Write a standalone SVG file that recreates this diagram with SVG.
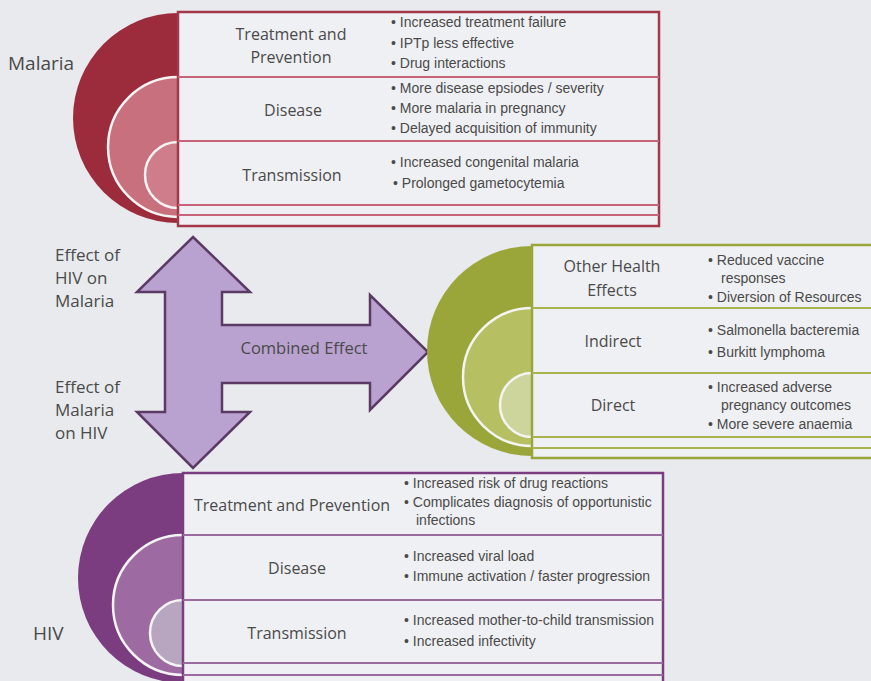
<svg xmlns="http://www.w3.org/2000/svg" width="871" height="681" viewBox="0 0 871 681">
<style>
.lbl{font-family:"Open Sans","Noto Sans",sans-serif;font-size:16px;fill:#4a4a4a;text-anchor:middle}
.side{font-family:"Open Sans","Noto Sans",sans-serif;font-size:17px;fill:#4a4a4a}
.bul{font-family:"Liberation Sans","Arial",sans-serif;font-size:14px;fill:#4a4a4a}
.box{fill:#eff0f3}
.w{stroke:#f4f4f4;stroke-width:2.5}
</style>
<rect width="871" height="681" fill="#e8eaed"/>

<!-- Malaria -->
<g id="malaria">
  <path d="M178,13 A105,105 0 0 0 178,223 Z" fill="#9c2b3c"/>
  <path d="M178,77 A70,70 0 0 0 178,217" fill="#c9707e" class="w"/>
  <path d="M178,142 A33,33 0 0 0 178,208" fill="#cf7d8a" class="w"/>
  <rect x="178" y="12" width="481" height="214" class="box" stroke="#a53848" stroke-width="2.5"/>
  <g stroke="#c8647a" stroke-width="1.8" fill="none">
    <line x1="178" y1="77" x2="659" y2="77"/>
    <line x1="178" y1="141" x2="659" y2="141"/>
    <line x1="178" y1="205" x2="659" y2="205"/>
    <line x1="178" y1="215" x2="659" y2="215"/>
  </g>
  <text class="side" x="8" y="70" style="font-size:19px">Malaria</text>
  <text class="lbl" x="291" y="40">Treatment and</text>
  <text class="lbl" x="291" y="63">Prevention</text>
  <text class="lbl" x="293" y="116">Disease</text>
  <text class="lbl" x="292" y="181">Transmission</text>
  <text class="bul" x="391" y="27">• Increased treatment failure</text>
  <text class="bul" x="391" y="48">• IPTp less effective</text>
  <text class="bul" x="391" y="68">• Drug interactions</text>
  <text class="bul" x="391" y="93">• More disease epsiodes / severity</text>
  <text class="bul" x="391" y="113">• More malaria in pregnancy</text>
  <text class="bul" x="391" y="133">• Delayed acquisition of immunity</text>
  <text class="bul" x="391" y="167">• Increased congenital malaria</text>
  <text class="bul" x="393" y="188">• Prolonged gametocytemia</text>
</g>

<!-- Arrows -->
<g id="connectors">
  <path d="M193,237 L250,292 L222,292 L222,325 L370,325 L370,295 L428,352 L370,410 L370,383 L222,383 L222,412 L250,412 L193,468 L137,412 L165,412 L165,292 L137,292 Z" fill="#b9a2cf" stroke="#5b3a66" stroke-width="2.5" stroke-linejoin="miter"/>
  <text class="lbl" x="304" y="354" style="font-size:16.5px">Combined Effect</text>
  <text class="side" x="55" y="261">Effect of</text>
  <text class="side" x="55" y="284">HIV on</text>
  <text class="side" x="55" y="307">Malaria</text>
  <text class="side" x="55" y="393">Effect of</text>
  <text class="side" x="55" y="416">Malaria</text>
  <text class="side" x="55" y="439">on HIV</text>
</g>

<!-- Combined effects -->
<g id="combined">
  <path d="M532,246 A105,105 0 0 0 532,456 Z" fill="#9aa63a"/>
  <path d="M532,308 A69,69 0 0 0 532,446" fill="#b6c063" class="w"/>
  <path d="M532,373 A32,32 0 0 0 532,437" fill="#cdd49c" class="w"/>
  <rect x="532" y="245" width="345" height="213" class="box" stroke="#9aa63a" stroke-width="2.5"/>
  <g stroke="#aab34e" stroke-width="1.8" fill="none">
    <line x1="532" y1="308" x2="871" y2="308"/>
    <line x1="532" y1="373" x2="871" y2="373"/>
    <line x1="532" y1="437" x2="871" y2="437"/>
    <line x1="532" y1="448" x2="871" y2="448"/>
  </g>
  <text class="lbl" x="612" y="272">Other Health</text>
  <text class="lbl" x="612" y="296">Effects</text>
  <text class="lbl" x="613" y="347">Indirect</text>
  <text class="lbl" x="613" y="411">Direct</text>
  <text class="bul" x="708" y="265">• Reduced vaccine</text>
  <text class="bul" x="721" y="283">responses</text>
  <text class="bul" x="708" y="302">• Diversion of Resources</text>
  <text class="bul" x="708" y="335">• Salmonella bacteremia</text>
  <text class="bul" x="708" y="357">• Burkitt lymphoma</text>
  <text class="bul" x="708" y="392">• Increased adverse</text>
  <text class="bul" x="721" y="410">pregnancy outcomes</text>
  <text class="bul" x="708" y="429">• More severe anaemia</text>
</g>

<!-- HIV -->
<g id="hiv">
  <path d="M183,473 A105,105 0 0 0 183,683 Z" fill="#7b3c80"/>
  <path d="M183,535 A70,70 0 0 0 183,675" fill="#9d6aa2" class="w"/>
  <path d="M183,600 A33,33 0 0 0 183,666" fill="#b8a6c0" class="w"/>
  <rect x="183" y="473" width="480" height="215" class="box" stroke="#7b3c80" stroke-width="2.5"/>
  <g stroke="#9a6aa0" stroke-width="1.8" fill="none">
    <line x1="183" y1="535" x2="663" y2="535"/>
    <line x1="183" y1="600" x2="663" y2="600"/>
    <line x1="183" y1="663" x2="663" y2="663"/>
    <line x1="183" y1="675" x2="663" y2="675"/>
  </g>
  <text class="side" x="33" y="640" style="font-size:19px">HIV</text>
  <text class="lbl" x="292" y="511">Treatment and Prevention</text>
  <text class="lbl" x="297" y="574">Disease</text>
  <text class="lbl" x="297" y="639">Transmission</text>
  <text class="bul" x="404" y="488">• Increased risk of drug reactions</text>
  <text class="bul" x="404" y="507">• Complicates diagnosis of opportunistic</text>
  <text class="bul" x="416" y="525">infections</text>
  <text class="bul" x="404" y="561">• Increased viral load</text>
  <text class="bul" x="404" y="581">• Immune activation / faster progression</text>
  <text class="bul" x="404" y="625">• Increased mother-to-child transmission</text>
  <text class="bul" x="404" y="646">• Increased infectivity</text>
</g>
</svg>
